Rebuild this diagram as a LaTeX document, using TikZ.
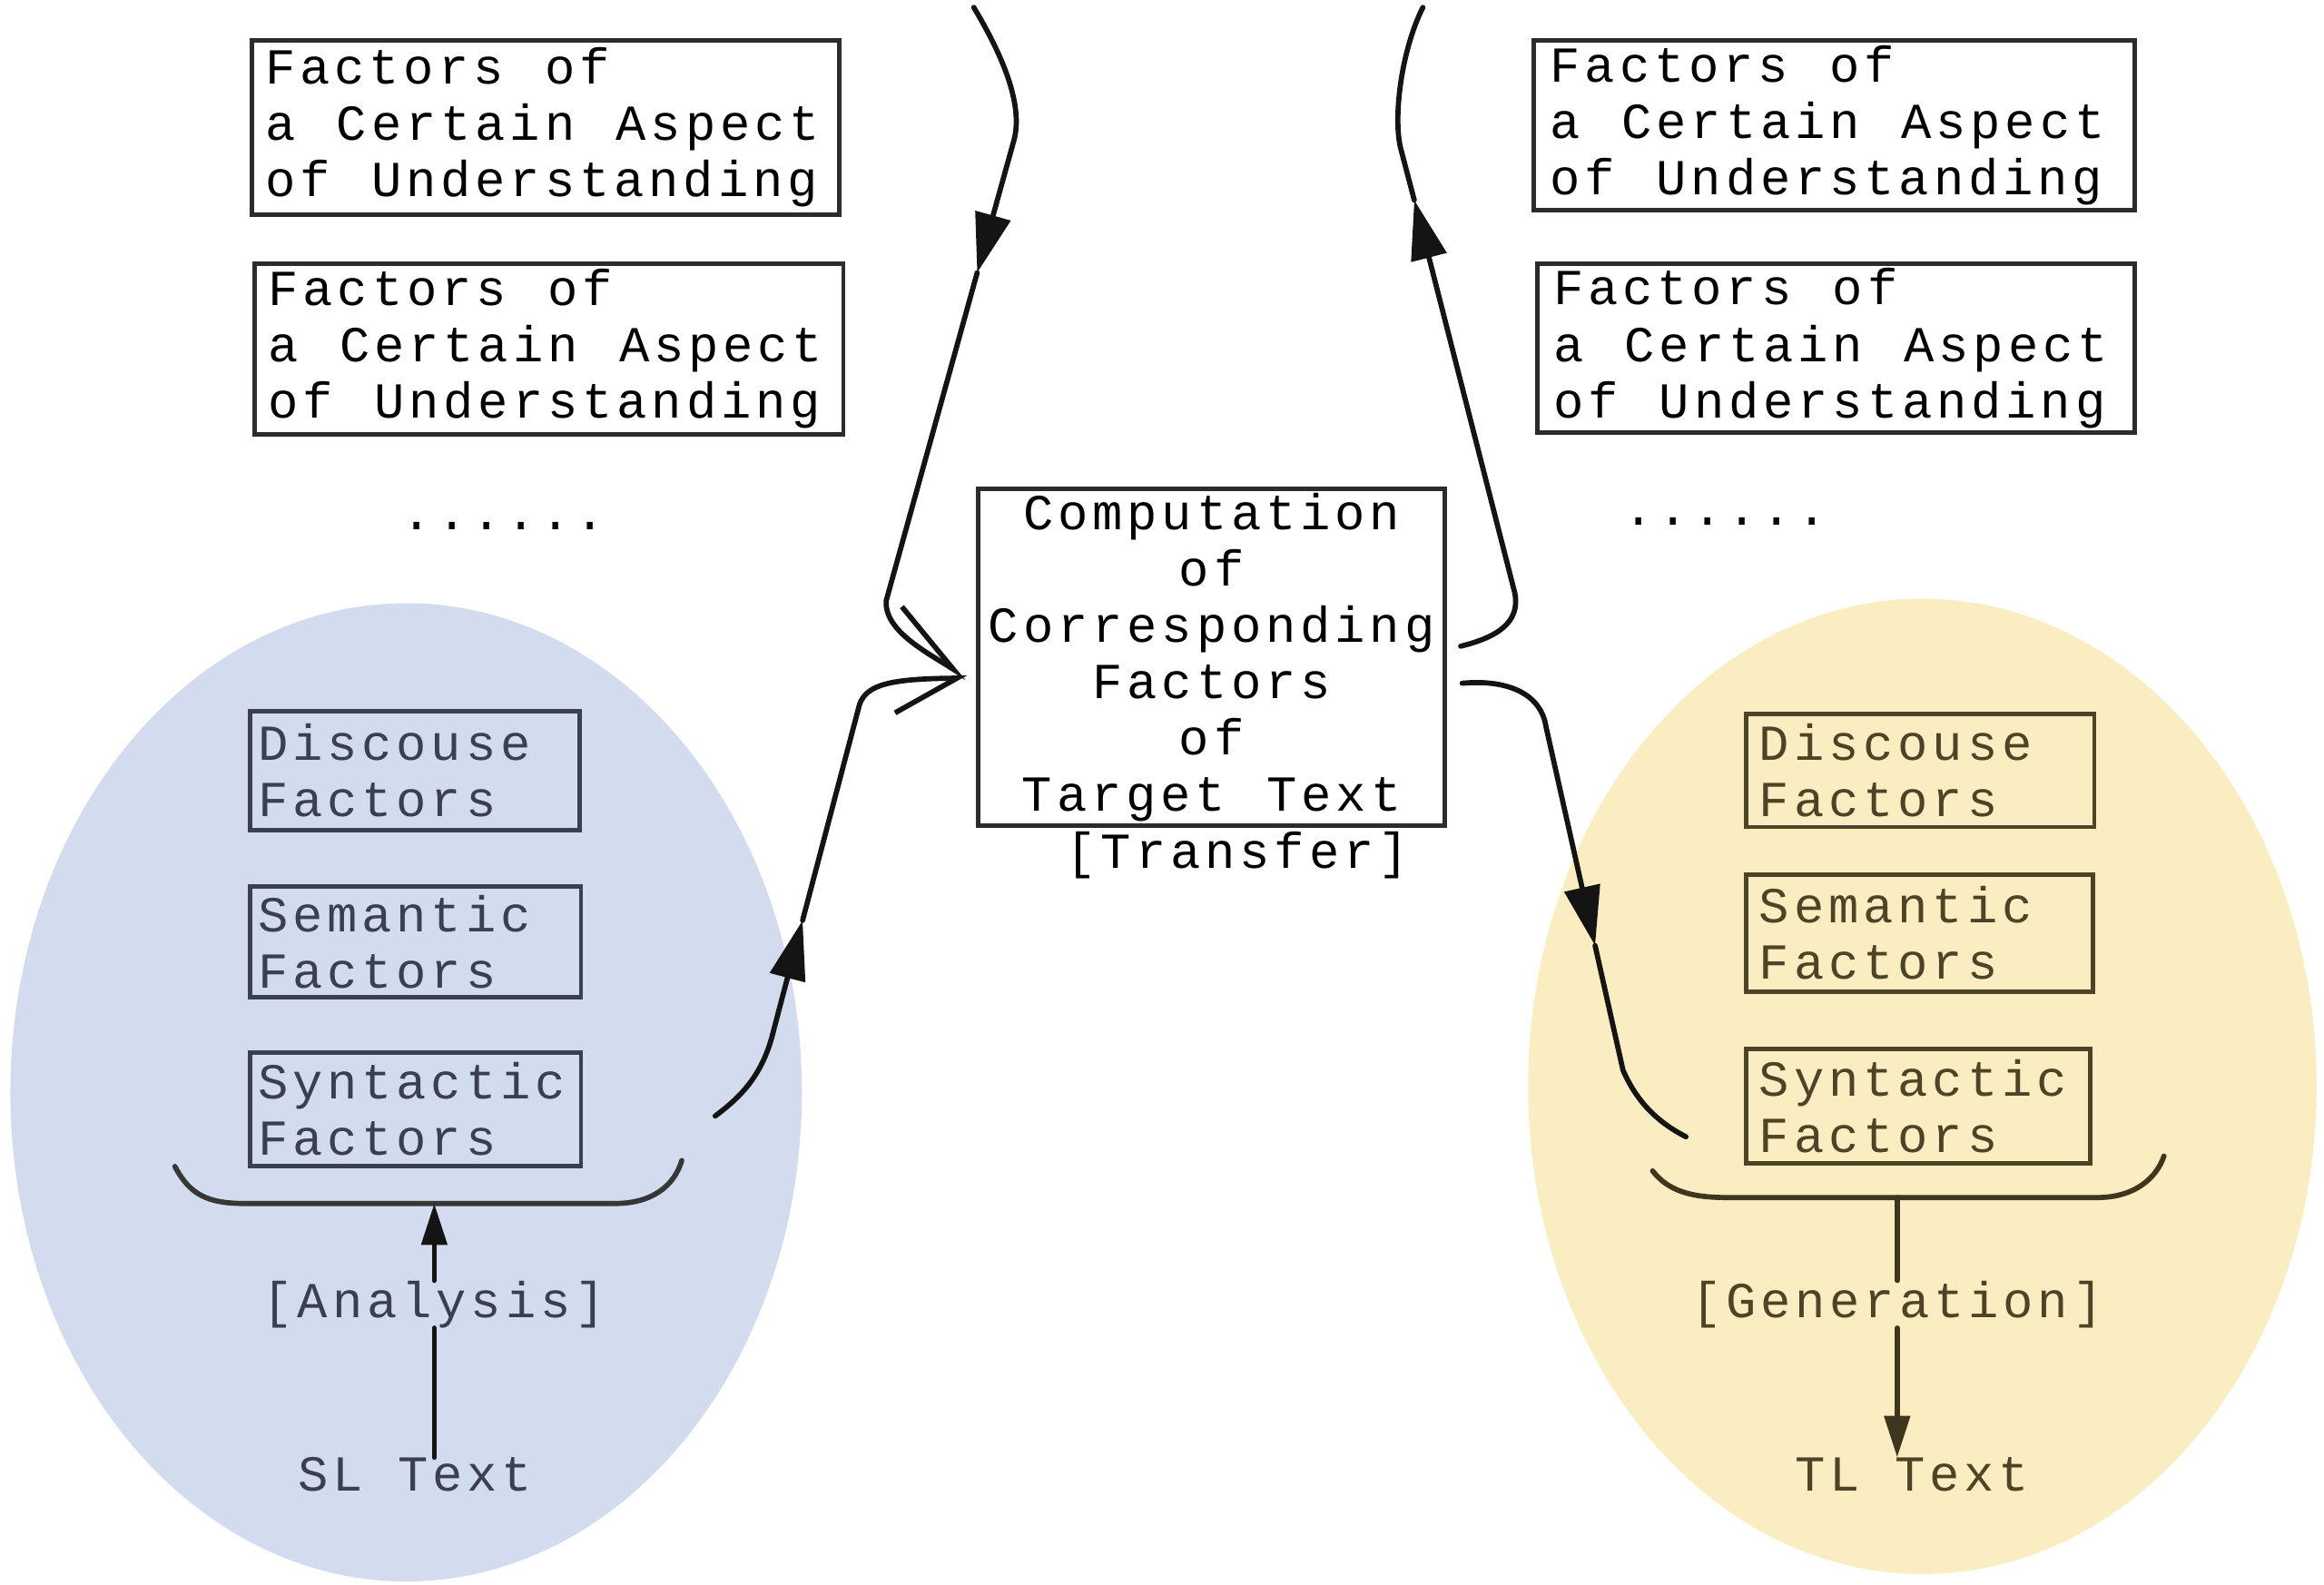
\documentclass[tikz,border=0pt]{standalone}
\usepackage{fontspec}
\newfontfamily\mono[LetterSpace=8.8]{Liberation Mono}
\usetikzlibrary{arrows.meta,calc}
\definecolor{blueell}{RGB}{211,220,238}
\definecolor{yellell}{RGB}{250,237,193}
\definecolor{bluetxt}{RGB}{58,63,82}
\definecolor{yelltxt}{RGB}{77,67,38}
\definecolor{ink}{RGB}{20,20,20}
\begin{document}
\begin{tikzpicture}[x=1pt,y=-1pt,
  txt/.style={font=\fontsize{34}{38}\selectfont\mono, inner sep=0pt},
  fbox/.style={txt, draw=ink!90, line width=3pt, align=left, inner xsep=9pt,
    execute at begin node={\spaceskip=27.8pt\relax\xspaceskip=27.8pt\relax}},
  lbox/.style={fbox, draw=bluetxt, text=bluetxt, inner xsep=5pt},
  rbox/.style={fbox, draw=yelltxt, text=yelltxt, inner xsep=9pt},
  conn/.style={draw=ink, line width=3.5pt, line cap=round},
  midtip/.style={-{Triangle[length=40pt,width=24pt]}},
  smalltip/.style={-{Triangle[length=28pt,width=17pt]}},
  harpA/.style={-{Straight Barb[harpoon,length=52pt,width=34pt]}},
  harpB/.style={-{Straight Barb[harpoon,swap,length=42pt,width=46pt]}},
  bracestyle/.style={line width=3.5pt, line cap=round}
]
\useasboundingbox (0,0) rectangle (1568,1069.4);
\fill[white] (0,0) rectangle (1568,1069.4);
\fill[blueell] (274,737) ellipse [x radius=267, y radius=330];
\fill[yellell] (1297,733) ellipse [x radius=266, y radius=329];

% top factor boxes
\node[fbox, minimum width=396, minimum height=118, text width=378] (tl1) at (368,86) {Factors of\\a Certain Aspect\\of Understanding};
\node[fbox, minimum width=397, minimum height=115, text width=379] (tl2) at (370.5,235.5) {Factors of\\a Certain Aspect\\of Understanding};
\node[fbox, minimum width=405, minimum height=115, text width=383, inner xsep=11pt] (tr1) at (1237.5,84.5) {Factors of\\a Certain Aspect\\of Understanding};
\node[fbox, minimum width=403, minimum height=114, text width=381, inner xsep=11pt] (tr2) at (1238.5,235) {Factors of\\a Certain Aspect\\of Understanding};
\node[txt] (dotsL) at (340,355) {......};
\node[txt] (dotsR) at (1164,352) {......};

% centre
\node[fbox, align=center, text width=306, inner xsep=4.5pt, minimum width=315, minimum height=227] (ctr) at (817.5,443.5) {Computation\\of\\Corresponding\\Factors\\of\\Target Text};
\node[txt] (tra) at (835,577) {[Transfer]};

% left ellipse content
\node[lbox, minimum width=220, minimum height=80, text width=212] (ld) at (280,520) {Discouse\\Factors};
\node[lbox, minimum width=221, minimum height=75, text width=213] (lm) at (280.5,635.5) {Semantic\\Factors};
\node[lbox, minimum width=221, minimum height=77, text width=213] (ls) at (280.5,748.5) {Syntactic\\Factors};
\draw[bracestyle, draw=ink!85] (118,787) .. controls (128,806) and (140,812) .. (165,812) -- (415,812) .. controls (440,812) and (455,800) .. (460,783);
\coordinate (bl) at (293,812);
\node[txt, text=bluetxt] (ana) at (293,880) {[Analysis]};
\node[txt, text=bluetxt] (sl) at (280,995) {SL Text};
\draw[conn, smalltip] (ana.north) -- (bl);
\draw[conn] (ana.south |- sl.north) -- (ana.south);

% right ellipse content
\node[rbox, minimum width=235, minimum height=76, text width=217] (rd) at (1295.5,520) {Discouse\\Factors};
\node[rbox, minimum width=234, minimum height=79, text width=216] (rm) at (1295,629.5) {Semantic\\Factors};
\node[rbox, minimum width=232, minimum height=77, text width=214] (rs) at (1294,746.5) {Syntactic\\Factors};
\draw[bracestyle, draw=yelltxt!80!black] (1115,790) .. controls (1125,803) and (1140,808) .. (1165,808) -- (1415,808) .. controls (1440,808) and (1455,795) .. (1460,780);
\node[txt, text=yelltxt] (gen) at (1280,880) {[Generation]};
\node[txt, text=yelltxt] (tlt) at (1290,995) {TL Text};
\coordinate (br) at (gen.north |- 0,808);
\draw[conn, draw=yelltxt!80!black] (br) -- (gen.north);
\draw[conn, draw=yelltxt!80!black, smalltip] (gen.south) -- (gen.south |- tlt.north);

% connectors
\coordinate (topL) at (657,5);
\coordinate (topR) at (960,5);
\coordinate (inL) at ($(ctr.west)+(-6,14)$);
\coordinate (outR1) at ($(ctr.east)+(9,-7.5)$);
\coordinate (outR2) at ($(ctr.east)+(10,17.5)$);
\coordinate (synL) at ($(ls.east)+(89,4.5)$);
\coordinate (synR) at ($(rs.west)+(-39,20.5)$);
\coordinate (tipTL) at (659.3,184);
\coordinate (tipTR) at (954.2,135);
\coordinate (tipLL) at (541.5,621);
\coordinate (tipRL) at (1076.2,638);

\draw[conn, midtip] (topL) .. controls (675,35) and (691,70) .. (684,95) -- (tipTL);
\draw[conn, harpA] (tipTL) -- (598,405) .. controls (596,425) and (625,440) .. (inL);
\draw[conn, midtip] (synL) .. controls (500,740) and (515,725) .. (522,695) -- (tipLL);
\draw[conn, harpB] (tipLL) -- (580,475) .. controls (585,462) and (600,458) .. (inL);
\draw[conn, midtip] (outR1) .. controls (1010,430) and (1026,420) .. (1022,400) -- (tipTR);
\draw[conn] (tipTR) -- (945,100) .. controls (940,80) and (945,35) .. (topR);
\draw[conn, midtip] (outR2) .. controls (1020,458) and (1040,470) .. (1043,490) -- (tipRL);
\draw[conn] (tipRL) -- (1095,722) .. controls (1105,745) and (1120,758) .. (synR);
\end{tikzpicture}
\end{document}
